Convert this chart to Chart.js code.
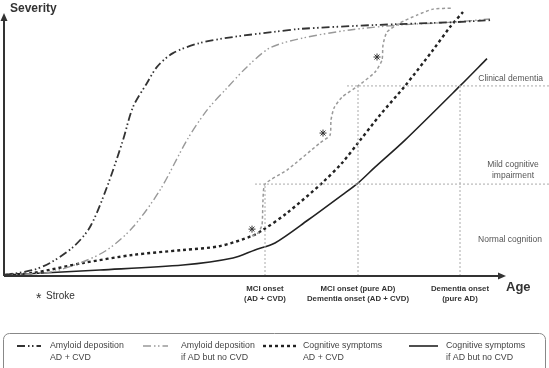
<!DOCTYPE html>
<html>
<head>
<meta charset="utf-8">
<script src="https://cdn.jsdelivr.net/npm/chart.js@4"></script>
<style>
    html, body { margin: 0; padding: 0; background: #fff; }
    #wrap { width: 549px; height: 368px; position: relative; }
</style>
</head>
<body>
<div id="wrap"><canvas id="chart"></canvas></div>
<script>
// curves, x = age (arbitrary units), y = severity (arbitrary units)
const amyloidCvdX = [0.2, 5.8, 9.2, 13.8, 17.2, 20.6, 23.8, 25.8, 28.6, 30.6, 33.8, 39.2, 45.8, 53.8, 59.2, 74.2, 90.2, 97.6];
const amyloidCvdY = [0.4, 2.3, 5.0, 11.1, 18.8, 34.2, 52.2, 64.9, 74.1, 80.3, 85.6, 89.5, 91.8, 93.7, 94.9, 96.4, 97.5, 98.3];

const amyloidPureX = [0.2, 9.2, 15.2, 20.6, 25.8, 31.2, 36.6, 40.6, 44.6, 48.6, 53.2, 59.8, 69.2, 79.2, 89.8, 97.2];
const amyloidPureY = [0.4, 1.5, 5.0, 10.0, 18.8, 33.0, 52.2, 63.7, 72.2, 80.3, 87.6, 91.4, 94.5, 96.4, 97.5, 98.7];

const cognCvdX = [0.2, 5.8, 15.8, 25.8, 35.8, 43.2, 49.6, 51.8, 56.6, 63.6, 67.6, 70.8, 75.2, 80.2, 85.8, 89.2, 91.8];
const cognCvdY = [0.4, 1.2, 5.0, 8.1, 10.0, 11.5, 15.4, 17.7, 24.2, 35.7, 43.4, 51.1, 61.8, 73.0, 86.8, 95.6, 101.4];

const strokeX = [49.6, 50.8, 51.6, 51.8, 52.2, 56.6, 63.2, 65.2, 65.4, 66.0, 67.6, 70.8, 74.2, 75.6, 75.8, 76.6, 79.2, 82.6, 85.8, 89.8];
const strokeY = [15.4, 16.5, 19.6, 29.2, 35.3, 40.7, 51.1, 54.1, 59.9, 64.5, 68.7, 73.0, 78.3, 82.9, 88.7, 93.7, 97.2, 100.2, 102.5, 102.9];

const cognPureX = [0.2, 19.2, 35.8, 45.8, 50.2, 54.2, 60.8, 67.6, 70.8, 74.2, 80.2, 91.2, 96.6];
const cognPureY = [0.4, 2.3, 4.2, 6.9, 10.0, 12.7, 21.5, 31.1, 35.7, 41.8, 52.2, 73.0, 83.5];

// stroke events
const starX = [49.6, 63.8, 74.6];
const starY = [18.0, 54.9, 84.1];

// thresholds and onsets
const mciLevel = 35.3;
const dementiaLevel = 73.0;
const onsetTicks = [52.2, 70.8, 91.2];
const onsetLabels = [
    ["MCI onset", "(AD + CVD)"],
    ["MCI onset (pure AD)", "Dementia onset (AD + CVD)"],
    ["Dementia onset", "(pure AD)"]
];
const xMax = 109;
const yMax = 106;
const axisEnd = 100;

const legendLabels = [
    ["Amyloid deposition", "AD + CVD"],
    ["Amyloid deposition", "if AD but no CVD"],
    ["Cognitive symptoms", "AD + CVD"],
    ["Cognitive symptoms", "if AD but no CVD"]
];

function pts(xs, ys) {
    return xs.map((x, i) => ({ x: x, y: ys[i] }));
}

const dashDot = [8, 3, 1.5, 2.5, 1.5, 3];
const refStyle = { borderColor: "#aaa", borderWidth: 1, borderDash: [2, 2], pointRadius: 0, tension: 0, clip: false };

const datasets = [
    { label: "mci-h", data: [{ x: 50.2, y: mciLevel }, { x: xMax, y: mciLevel }], ...refStyle },
    { label: "dem-h", data: [{ x: 68.6, y: dementiaLevel }, { x: xMax, y: dementiaLevel }], ...refStyle },
    { label: "v1", data: [{ x: onsetTicks[0], y: 0 }, { x: onsetTicks[0], y: mciLevel }], ...refStyle },
    { label: "v2", data: [{ x: onsetTicks[1], y: 0 }, { x: onsetTicks[1], y: dementiaLevel }], ...refStyle },
    { label: "v3", data: [{ x: onsetTicks[2], y: 0 }, { x: onsetTicks[2], y: dementiaLevel }], ...refStyle },
    {
        label: "amyloidCvd", data: pts(amyloidCvdX, amyloidCvdY),
        borderColor: "#333", borderWidth: 1.8, borderDash: dashDot, pointRadius: 0, tension: 0.3
    },
    {
        label: "amyloidPure", data: pts(amyloidPureX, amyloidPureY),
        borderColor: "#999", borderWidth: 1.4, borderDash: dashDot, pointRadius: 0, tension: 0.3
    },
    {
        label: "stroke", data: pts(strokeX, strokeY),
        borderColor: "#9a9a9a", borderWidth: 1.5, borderDash: [3, 2.5], pointRadius: 0, tension: 0.2
    },
    {
        label: "cognCvd", data: pts(cognCvdX, cognCvdY),
        borderColor: "#222", borderWidth: 2.4, borderDash: [3, 3], pointRadius: 0, tension: 0.3
    },
    {
        label: "cognPure", data: pts(cognPureX, cognPureY),
        borderColor: "#222", borderWidth: 1.6, pointRadius: 0, tension: 0.3
    },
    {
        label: "stars", data: pts(starX, starY), showLine: false,
        pointStyle: "star", pointRadius: 3.5, borderColor: "#333", borderWidth: 1, backgroundColor: "#333"
    }
];

const legendSets = ["amyloidCvd", "amyloidPure", "cognCvd", "cognPure"];

const decorations = {
    id: "decorations",
    afterDraw(chart) {
        const ctx = chart.ctx;
        const xs = chart.scales.x, ys = chart.scales.y;
        const x0 = xs.getPixelForValue(0), y0 = ys.getPixelForValue(0);
        const xEnd = xs.getPixelForValue(axisEnd);
        ctx.save();

        // axes with arrows
        ctx.strokeStyle = "#333";
        ctx.fillStyle = "#333";
        ctx.lineWidth = 2;
        ctx.beginPath();
        ctx.moveTo(x0, y0);
        ctx.lineTo(x0, 20);
        ctx.moveTo(x0, y0);
        ctx.lineTo(xEnd - 4, y0);
        ctx.stroke();
        ctx.beginPath();
        ctx.moveTo(x0, 13);
        ctx.lineTo(x0 - 3.5, 21);
        ctx.lineTo(x0 + 3.5, 21);
        ctx.closePath();
        ctx.fill();
        ctx.beginPath();
        ctx.moveTo(xEnd + 2, y0);
        ctx.lineTo(xEnd - 6, y0 - 3.5);
        ctx.lineTo(xEnd - 6, y0 + 3.5);
        ctx.closePath();
        ctx.fill();

        ctx.font = "bold 12px 'Liberation Sans', Arial, sans-serif";
        ctx.textBaseline = "middle";
        ctx.textAlign = "left";
        ctx.fillText("Severity", 10, 9);
        ctx.font = "bold 13px 'Liberation Sans', Arial, sans-serif";
        ctx.fillText("Age", 506, 287);

        // region labels
        ctx.fillStyle = "#555";
        ctx.font = "8.5px 'Liberation Sans', Arial, sans-serif";
        ctx.textAlign = "right";
        ctx.fillText("Clinical dementia", xs.getPixelForValue(107.8), ys.getPixelForValue(75.7));
        ctx.textAlign = "center";
        const mx = xs.getPixelForValue(101.8);
        ctx.fillText("Mild cognitive", mx, ys.getPixelForValue(42.6));
        ctx.fillText("impairment", mx, ys.getPixelForValue(38.7));
        ctx.fillText("Normal cognition", xs.getPixelForValue(101.2), ys.getPixelForValue(13.8));

        // stroke note
        ctx.fillStyle = "#333";
        ctx.textAlign = "left";
        ctx.font = "14px 'Liberation Sans', Arial, sans-serif";
        ctx.fillText("*", 36, 299);
        ctx.font = "10px 'Liberation Sans', Arial, sans-serif";
        ctx.fillText("Stroke", 46, 296);

        // legend box
        ctx.strokeStyle = "#888";
        ctx.lineWidth = 1;
        ctx.beginPath();
        ctx.roundRect(3.5, 333.5, 542, 44, 6);
        ctx.stroke();

        const sampleX = [[17, 41], [143, 168], [263, 297], [409, 438]];
        const textX = [50, 181, 303, 446];
        legendSets.forEach((name, i) => {
            const ds = chart.data.datasets.find(d => d.label === name);
            ctx.strokeStyle = ds.borderColor;
            ctx.lineWidth = ds.borderWidth;
            ctx.setLineDash(ds.borderDash || []);
            ctx.beginPath();
            ctx.moveTo(sampleX[i][0], 346);
            ctx.lineTo(sampleX[i][1], 346);
            ctx.stroke();
            ctx.setLineDash([]);
            ctx.fillStyle = "#444";
            ctx.font = "8.8px 'Liberation Sans', Arial, sans-serif";
            ctx.textAlign = "left";
            ctx.fillText(legendLabels[i][0], textX[i], 346);
            ctx.fillText(legendLabels[i][1], textX[i], 358);
        });
        ctx.restore();
    }
};

new Chart(document.getElementById("chart"), {
    type: "line",
    data: { datasets: datasets },
    options: {
        responsive: true,
        maintainAspectRatio: false,
        animation: false,
        layout: { autoPadding: false, padding: { left: 4, right: 0, top: 0, bottom: 0 } },
        scales: {
            x: {
                type: "linear",
                min: 0,
                max: xMax,
                grid: { display: false, drawTicks: false },
                border: { display: false },
                afterBuildTicks: scale => {
                    scale.ticks = onsetTicks.map(v => ({ value: v }));
                },
                afterFit: scale => { scale.height = 92; },
                ticks: {
                    autoSkip: false,
                    maxRotation: 0,
                    padding: 8,
                    color: "#333",
                    font: { family: "'Liberation Sans', Arial, sans-serif", size: 7.8, weight: "bold", lineHeight: 1.3 },
                    callback: (value, index) => onsetLabels[index]
                }
            },
            y: {
                type: "linear",
                display: false,
                min: 0,
                max: yMax
            }
        },
        plugins: {
            legend: { display: false },
            tooltip: { enabled: false }
        }
    },
    plugins: [decorations]
});
</script>
</body>
</html>
